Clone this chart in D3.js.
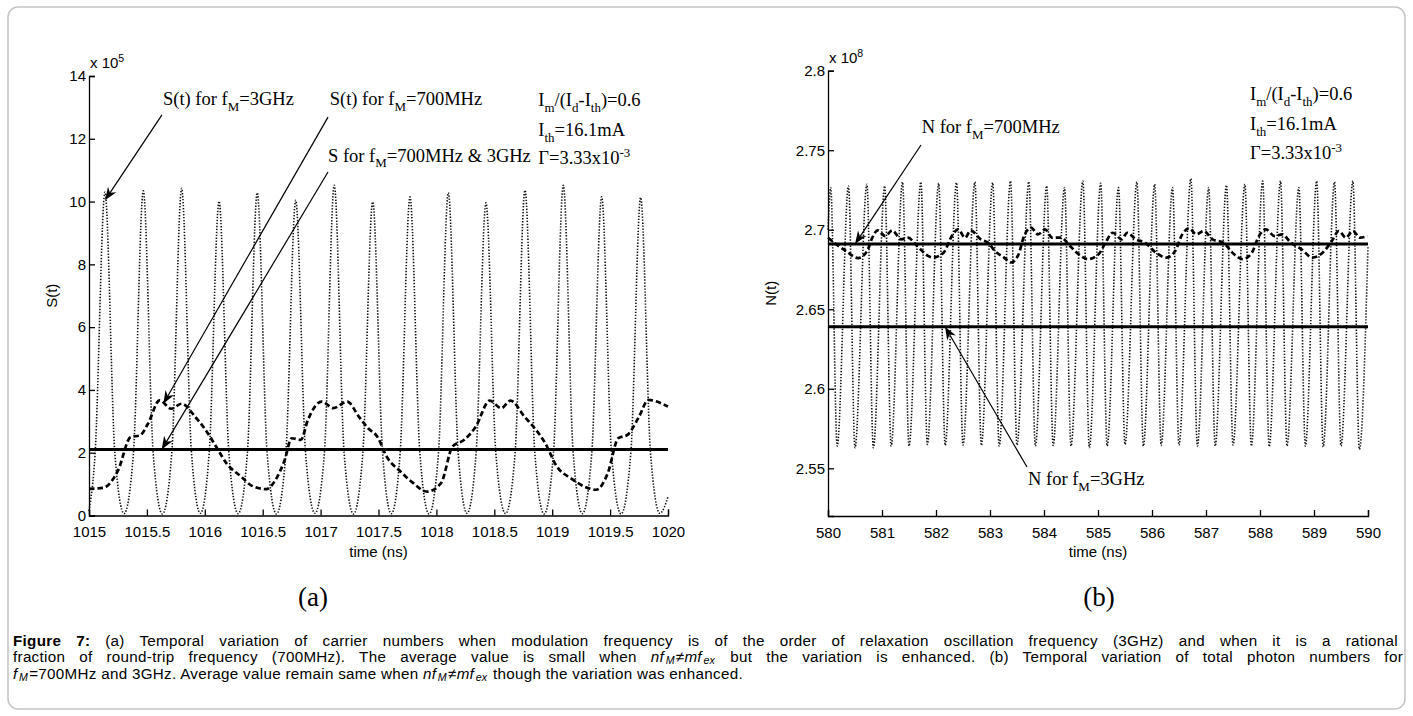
<!DOCTYPE html>
<html>
<head>
<meta charset="utf-8">
<script src="https://cdn.jsdelivr.net/npm/d3@7"></script>
<style>
body{margin:0;background:#fff}
</style>
</head>
<body>
<svg id="fig" width="1413" height="716"></svg>
<script>
// ---- panel (a): photon number S(t) ----
var sTicksX = [1015, 1015.5, 1016, 1016.5, 1017, 1017.5, 1018, 1018.5, 1019, 1019.5, 1020]
var sTicksY = [0, 2, 4, 6, 8, 10, 12, 14]

// f_M = 3GHz, dotted (x 10^5)
var s3gTime = [1015.000,
  1015.053, 1015.138, 1015.223, 1015.303,
  1015.384, 1015.469, 1015.554, 1015.634,
  1015.715, 1015.800, 1015.885, 1015.962,
  1016.038, 1016.123, 1016.208, 1016.288,
  1016.368, 1016.453, 1016.538, 1016.619,
  1016.700, 1016.785, 1016.870, 1016.951,
  1017.033, 1017.118, 1017.203, 1017.284,
  1017.365, 1017.450, 1017.535, 1017.611,
  1017.687, 1017.772, 1017.857, 1017.937,
  1018.018, 1018.103, 1018.188, 1018.265,
  1018.343, 1018.428, 1018.513, 1018.597,
  1018.680, 1018.765, 1018.850, 1018.930,
  1019.011, 1019.096, 1019.181, 1019.261,
  1019.342, 1019.427, 1019.512, 1019.595,
  1019.679, 1019.764, 1019.849, 1019.930,
  1020.000]
var s3gVal = [0.15,
  2.0, 10.30, 2.0, 0.06,
  2.0, 10.34, 2.0, 0.05,
  2.0, 10.42, 2.0, 0.07,
  2.0, 10.01, 2.0, 0.06,
  2.0, 10.28, 2.0, 0.05,
  2.0, 10.04, 2.0, 0.07,
  2.0, 10.52, 2.0, 0.05,
  2.0, 9.99, 2.0, 0.06,
  2.0, 10.15, 2.0, 0.05,
  2.0, 10.28, 2.0, 0.07,
  2.0, 9.96, 2.0, 0.06,
  2.0, 10.36, 2.0, 0.05,
  2.0, 10.52, 2.0, 0.06,
  2.0, 10.15, 2.0, 0.05,
  2.0, 10.13, 2.0, 0.07,
  0.60]

// f_M = 700MHz, dashed
var s700Time = [1015.00, 1015.12, 1015.25, 1015.36, 1015.44, 1015.51, 1015.61, 1015.71, 1015.80, 1015.92,
  1016.03, 1016.10, 1016.19, 1016.32, 1016.40, 1016.53, 1016.61, 1016.69, 1016.75, 1016.83, 1016.89,
  1017.01, 1017.11, 1017.23, 1017.33, 1017.41, 1017.49, 1017.57, 1017.69, 1017.80, 1017.92,
  1018.04, 1018.14, 1018.24, 1018.34, 1018.46, 1018.56, 1018.64, 1018.76, 1018.86, 1018.94,
  1019.04, 1019.16, 1019.28, 1019.38, 1019.48, 1019.57, 1019.65, 1019.75, 1019.83, 1020.00]
var s700Val = [0.85, 0.88, 1.43, 2.50, 2.55, 2.93, 3.67, 3.40, 3.56, 3.13,
  2.60, 2.18, 1.65, 1.22, 0.96, 0.84, 1.13, 1.77, 2.46, 2.41, 3.04,
  3.63, 3.42, 3.63, 3.15, 2.78, 2.51, 1.88, 1.40, 1.03, 0.76,
  1.03, 2.20, 2.41, 2.83, 3.66, 3.42, 3.66, 3.15, 2.73, 2.30,
  1.56, 1.19, 0.92, 0.82, 1.35, 2.46, 2.57, 3.15, 3.68, 3.47]

var sMean = 2.1   // S for both 700MHz and 3GHz

// ---- panel (b): carrier number N(t) ----
var nTicksX = [580, 581, 582, 583, 584, 585, 586, 587, 588, 589, 590]
var nTicksY = [2.55, 2.6, 2.65, 2.7, 2.75, 2.8]

// f_M = 3GHz, dotted (x 10^8)
var n3gTime = [580.00,
  580.05, 580.17, 580.38, 580.50, 580.72, 580.84, 581.05, 581.17, 581.38, 581.50,
  581.72, 581.84, 582.05, 582.17, 582.38, 582.50, 582.72, 582.84, 583.05, 583.17,
  583.38, 583.50, 583.72, 583.84, 584.05, 584.17, 584.38, 584.50, 584.72, 584.84,
  585.05, 585.17, 585.38, 585.50, 585.72, 585.84, 586.05, 586.17, 586.38, 586.50,
  586.72, 586.84, 587.05, 587.17, 587.38, 587.50, 587.72, 587.84, 588.05, 588.17,
  588.38, 588.50, 588.72, 588.84, 589.05, 589.17, 589.38, 589.50, 589.72, 589.84,
  590.00]
var n3gVal = [2.700,
  2.7265, 2.5640, 2.7275, 2.5629, 2.7286, 2.5629, 2.7275, 2.5640, 2.7300, 2.5640,
  2.7300, 2.5650, 2.7292, 2.5644, 2.7296, 2.5646, 2.7300, 2.5644, 2.7296, 2.5640,
  2.7306, 2.5646, 2.7302, 2.5640, 2.7275, 2.5644, 2.7265, 2.5640, 2.7306, 2.5629,
  2.7292, 2.5640, 2.7265, 2.5650, 2.7300, 2.5640, 2.7286, 2.5644, 2.7265, 2.5646,
  2.7321, 2.5640, 2.7265, 2.5640, 2.7280, 2.5646, 2.7286, 2.5640, 2.7306, 2.5636,
  2.7306, 2.5640, 2.7265, 2.5640, 2.7306, 2.5634, 2.7300, 2.5640, 2.7306, 2.5619,
  2.690]

// f_M = 700MHz, dashed
var n700Time = [580.00, 580.17, 580.33, 580.56, 580.73, 580.82, 580.92, 581.06, 581.19, 581.35,
  581.48, 581.65, 581.85, 581.94, 582.14, 582.31, 582.41, 582.54, 582.64, 582.83,
  582.96, 583.09, 583.26, 583.39, 583.53, 583.62, 583.76, 583.89, 584.02, 584.15,
  584.32, 584.48, 584.68, 584.81, 585.01, 585.14, 585.27, 585.44, 585.54, 585.70,
  585.87, 586.07, 586.27, 586.43, 586.56, 586.69, 586.82, 586.96, 587.12, 587.32,
  587.52, 587.68, 587.85, 587.98, 588.11, 588.27, 588.41, 588.57, 588.77, 588.97,
  589.16, 589.33, 589.46, 589.59, 589.72, 589.85, 589.99]
var n700Val = [2.6950, 2.6904, 2.6867, 2.6821, 2.6870, 2.6950, 2.6996, 2.6960, 2.6996, 2.6940,
  2.6950, 2.6898, 2.6836, 2.6825, 2.6856, 2.6971, 2.7002, 2.6950, 2.6996, 2.6940,
  2.6919, 2.6867, 2.6825, 2.6794, 2.6846, 2.6950, 2.7013, 2.6971, 2.7002, 2.6950,
  2.6950, 2.6898, 2.6836, 2.6815, 2.6846, 2.6919, 2.6981, 2.6940, 2.6981, 2.6940,
  2.6919, 2.6856, 2.6825, 2.6867, 2.6971, 2.7009, 2.6971, 2.6992, 2.6940, 2.6919,
  2.6846, 2.6815, 2.6856, 2.6960, 2.7002, 2.6960, 2.6971, 2.6919, 2.6877, 2.6825,
  2.6856, 2.6929, 2.6992, 2.6950, 2.6992, 2.6950, 2.6960]

var nMean700 = 2.691
var nMean3g = 2.639

var SANS = "'Liberation Sans', Arial, sans-serif"
var SERIF = "'Liberation Serif', 'Times New Roman', serif"

var svg = d3.select("#fig")

// card frame
svg.append("rect").attr("x",8).attr("y",7).attr("width",1397).attr("height",702)
   .attr("rx",10).attr("fill","#fff").attr("stroke","#c4c4c4").attr("stroke-width",1.5)

var xS = d3.scaleLinear().domain([1015,1020]).range([89,668])
var yS = d3.scaleLinear().domain([0,14]).range([515.5,76])
var xN = d3.scaleLinear().domain([580,590]).range([828,1368])
var yN = d3.scaleLinear().domain([2.52,2.8]).range([516,70.7])

// text with sub/superscripts
function rich(g, x, y, runs, size, family, subK){
    subK = subK || 0.3
    var t = g.append("text").attr("x",x).attr("y",y)
        .attr("font-family",family).attr("font-size",size).attr("fill","#000")
    var shift = 0
    runs.forEach(function(r){
        var s = r.sub ? size*subK : (r.sup ? -size*0.4 : 0)
        t.append("tspan")
         .attr("dy", s-shift)
         .attr("dx", r.gap || null)
         .attr("font-size", (r.sub||r.sup) ? size*0.7 : size)
         .attr("font-style", r.i ? "italic" : null)
         .attr("font-weight", r.b ? "bold" : null)
         .text(r.t)
        shift = s
    })
    return t
}

function arrow(g, x1, y1, x2, y2){
    var a = Math.atan2(y2-y1, x2-x1), L = 13, w = 5, n = 9
    var c = Math.cos(a), s = Math.sin(a)
    g.append("line").attr("x1",x1).attr("y1",y1)
     .attr("x2",x2-c*n).attr("y2",y2-s*n)
     .attr("stroke","#000").attr("stroke-width",1.2)
    var p = [[x2,y2],[x2-L*c+w*s, y2-L*s-w*c],[x2-n*c, y2-n*s],[x2-L*c-w*s, y2-L*s+w*c]]
    g.append("path").attr("d","M"+p.join("L")+"Z").attr("fill","#000")
}

function panel(x, y, ticksX, ticksY, series, means, ylab, expo, fmtY){
    var g = svg.append("g")
    var line = d3.line().x(d=>x(d[0])).y(d=>y(d[1])).curve(d3.curveMonotoneX)

    g.append("path").datum(series.dot).attr("d",line)
     .attr("fill","none").attr("stroke","#111").attr("stroke-width",1.6)
     .attr("stroke-dasharray","1.4,1.6")
    g.append("path").datum(series.dash).attr("d",line)
     .attr("fill","none").attr("stroke","#000").attr("stroke-width",2.7)
     .attr("stroke-dasharray","5.5,3")

    means.forEach(function(m){
        g.append("line").attr("x1",x.range()[0]).attr("x2",x.range()[1])
         .attr("y1",y(m)).attr("y2",y(m))
         .attr("stroke","#000").attr("stroke-width",3)
    })

    var ax = g.append("g").attr("transform","translate(0,"+y.range()[0]+")")
        .call(d3.axisBottom(x).tickValues(ticksX).tickSize(-6).tickPadding(11)
              .tickFormat(d3.format("")))
    var ay = g.append("g").attr("transform","translate("+x.range()[0]+",0)")
        .call(d3.axisLeft(y).tickValues(ticksY).tickSize(-6).tickPadding(3)
              .tickFormat(fmtY))
    ;[ax, ay].forEach(function(a){
        a.attr("font-family",SANS).attr("font-size",15)
        a.selectAll("path,line").attr("stroke","#000").attr("stroke-width",1.3)
        a.selectAll("text").attr("fill","#000")
    })

    var xm = (x.range()[0]+x.range()[1])/2
    g.append("text").attr("x",xm).attr("y",557).attr("text-anchor","middle")
     .attr("font-family",SANS).attr("font-size",15).text("time (ns)")
    g.append("text").attr("transform","translate("+ylab.x+","+(y.range()[0]+y.range()[1])/2+") rotate(-90)")
     .attr("text-anchor","middle").attr("font-family",SANS).attr("font-size",15).text(ylab.t)
    rich(g, x.range()[0]+1, y.range()[1]-8, [{t:"x 10"},{t:expo,sup:1}], 15, SANS)
    return g
}

var ga = panel(xS, yS, sTicksX, sTicksY,
    {dot: d3.zip(s3gTime, s3gVal), dash: d3.zip(s700Time, s700Val)},
    [sMean], {x:57, t:"S(t)"}, "5", d3.format("d"))

var gb = panel(xN, yN, nTicksX, nTicksY,
    {dot: d3.zip(n3gTime, n3gVal), dash: d3.zip(n700Time, n700Val)},
    [nMean700, nMean3g], {x:776, t:"N(t)"}, "8", d3.format(""))

// annotations panel (a)
var FS = 18.5
rich(ga, xS(1015.639), yS(13.07), [{t:"S(t) for f"},{t:"M",sub:1},{t:"=3GHz"}], FS, SERIF)
rich(ga, xS(1017.079), yS(13.07), [{t:"S(t) for f"},{t:"M",sub:1},{t:"=700MHz"}], FS, SERIF)
rich(ga, xS(1017.064), yS(11.27), [{t:"S for f"},{t:"M",sub:1},{t:"=700MHz & 3GHz"}], FS, SERIF)
arrow(ga, xS(1015.63), yS(12.76), xS(1015.138), yS(10.04))
arrow(ga, xS(1017.064), yS(12.69), xS(1015.642), yS(3.56))
arrow(ga, xS(1017.064), yS(10.94), xS(1015.628), yS(sMean))

function params(g, x, ys){
    rich(g, x, ys[0], [{t:"I"},{t:"m",sub:1},{t:"/(I"},{t:"d",sub:1},{t:"-I"},{t:"th",sub:1},{t:")=0.6"}], FS, SERIF)
    rich(g, x, ys[1], [{t:"I"},{t:"th",sub:1},{t:"=16.1mA"}], FS, SERIF)
    rich(g, x, ys[2], [{t:"\u0393=3.33x10"},{t:"-3",sup:1}], FS, SERIF)
}
params(ga, xS(1018.88), [yS(13.04), yS(12.09), yS(11.19)])

// annotations panel (b)
rich(gb, xN(581.735), yN(2.7608), [{t:"N for f"},{t:"M",sub:1},{t:"=700MHz"}], FS, SERIF)
arrow(gb, xN(581.722), yN(2.7533), xN(580.5), yN(nMean700))
rich(gb, xN(583.704), yN(2.5395), [{t:"N for f"},{t:"M",sub:1},{t:"=3GHz"}], FS, SERIF)
arrow(gb, xN(583.685), yN(2.5508), xN(582.167), yN(nMean3g))
params(gb, xN(587.815), [yN(2.7816), yN(2.7627), yN(2.7445)])

// panel letters
svg.append("text").attr("x",313).attr("y",606).attr("text-anchor","middle")
   .attr("font-family",SERIF).attr("font-size",27).text("(a)")
svg.append("text").attr("x",1099).attr("y",606).attr("text-anchor","middle")
   .attr("font-family",SERIF).attr("font-size",27).text("(b)")

// caption, first two lines justified through word spacing
var CAP = 15.2
var nfmf = [{t:"nf",i:1},{t:"M",sub:1,i:1,gap:1.5},{t:"\u2260mf",i:1,gap:1},{t:"ex",sub:1,i:1,gap:1.5}]
var c1 = rich(svg, 13, 645.5, [{t:"Figure 7:",b:1},{t:" (a) Temporal variation of carrier numbers when modulation frequency is of the order of relaxation oscillation frequency (3GHz) and when it is a rational"}], CAP, SANS, 0.15)
var c2 = rich(svg, 13, 661.5, [{t:"fraction of round-trip frequency (700MHz). The average value is small when "}]
    .concat(nfmf, [{t:" but the variation is enhanced. (b) Temporal variation of total photon numbers for",gap:1}]), CAP, SANS, 0.15)
var c3 = rich(svg, 13, 678.5, [{t:"f",i:1},{t:"M",sub:1,i:1,gap:1.5},{t:"=700MHz and 3GHz. Average value remain same when ",gap:1}]
    .concat(nfmf, [{t:" though the variation was enhanced.",gap:1}]), CAP, SANS, 0.15)
;[c1, c2, c3].forEach(function(c){ c.attr("letter-spacing", 0.3) })
;[c1, c2].forEach(function(c){
    var len = c.node().getComputedTextLength()
    var gaps = c.text().split(" ").length - 1
    c.attr("word-spacing", Math.max(0, (1385 - len) / gaps))
})
</script>
</body>
</html>
